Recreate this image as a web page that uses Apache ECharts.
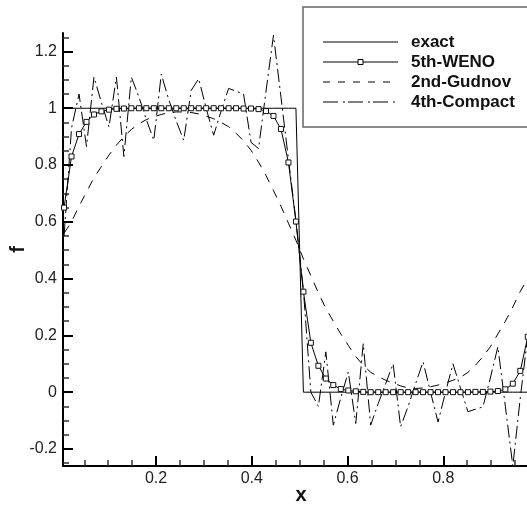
<!DOCTYPE html>
<html>
<head>
<meta charset="utf-8">
<script src="https://cdn.jsdelivr.net/npm/echarts@6/dist/echarts.min.js"></script>
<style>html,body{margin:0;padding:0;background:#fff}#c{width:527px;height:506px}</style>
</head>
<body>
<div id="c"></div>
<script>
// grid points
var xs = [0.0078,0.0234,0.0391,0.0547,0.0703,0.0859,0.1016,0.1172,0.1328,0.1484,0.1641,0.1797,0.1953,0.2109,0.2266,0.2422,
0.2578,0.2734,0.2891,0.3047,0.3203,0.3359,0.3516,0.3672,0.3828,0.3984,0.4141,0.4297,0.4453,0.4609,0.4766,0.4922,
0.5078,0.5234,0.5391,0.5547,0.5703,0.5859,0.6016,0.6172,0.6328,0.6484,0.6641,0.6797,0.6953,0.7109,0.7266,0.7422,
0.7578,0.7734,0.7891,0.8047,0.8203,0.8359,0.8516,0.8672,0.8828,0.8984,0.9141,0.9297,0.9453,0.9609,0.9766,0.9922];
var exact = [1,1,1,1,1,1,1,1,1,1,1,1,1,1,1,1,1,1,1,1,1,1,1,1,1,1,1,1,1,1,1,1,
0,0,0,0,0,0,0,0,0,0,0,0,0,0,0,0,0,0,0,0,0,0,0,0,0,0,0,0,0,0,0,0];
var weno5 = [0.65,0.83,0.909,0.952,0.978,0.989,0.995,0.998,0.999,1,1,1,1,1,1,1,
1,1,1,1,1,1,1,1,0.999,0.999,0.997,0.99,0.973,0.927,0.809,0.601,
0.354,0.174,0.093,0.048,0.025,0.011,0.006,0.003,0.001,0,0,0,0,0,0,0,
0,0,0,0,0,0,0,0.001,0.001,0.002,0.004,0.01,0.03,0.075,0.195,0.36];
var godunov2 = [0.56,0.60,0.655,0.705,0.755,0.795,0.835,0.87,0.90,0.925,0.945,0.96,0.97,0.978,0.984,0.987,
0.987,0.985,0.98,0.972,0.963,0.95,0.935,0.912,0.885,0.852,0.81,0.763,0.71,0.655,0.595,0.535,
0.47,0.41,0.35,0.295,0.25,0.205,0.165,0.125,0.095,0.07,0.055,0.042,0.032,0.022,0.015,0.013,
0.015,0.019,0.025,0.033,0.042,0.052,0.07,0.095,0.125,0.16,0.205,0.25,0.3,0.355,0.40,0.45];
var compact4 = [0.55,0.93,1.05,0.865,1.11,1.02,0.934,1.11,0.83,1.11,1.04,0.96,0.887,1.12,1.03,0.955,
0.887,1.063,1.104,1.0,0.905,0.99,1.07,1.06,1.05,0.88,0.858,1.06,1.257,1.04,0.82,0.605,
0.36,0.0,-0.05,0.142,-0.116,-0.02,0.071,-0.11,0.171,-0.116,-0.04,0.03,0.10,-0.122,-0.05,0.03,
0.107,0.0,-0.105,0.0,0.10,0.015,-0.069,-0.06,-0.052,0.05,0.16,-0.05,-0.26,-0.02,0.2,0.45];
var seriesNames = ['exact','5th-WENO','2nd-Gudnov','4th-Compact'];
var xMajor = [0.2,0.4,0.6,0.8];
var xMinor = [0.05,0.1,0.15,0.25,0.3,0.35,0.45,0.5,0.55,0.65,0.7,0.75,0.85,0.9,0.95];
var yMajor = [-0.2,0,0.2,0.4,0.6,0.8,1,1.2];
var yMinor = [-0.25,-0.15,-0.1,-0.05,0.05,0.1,0.15,0.25,0.3,0.35,0.45,0.5,0.55,0.65,0.7,0.75,0.85,0.9,0.95,1.05,1.1,1.15,1.25];

function pairs(ys){ return xs.map(function(x,i){ return [x, ys[i]]; }); }
var FONT = "'Liberation Sans', Arial, sans-serif";
var fmt = function(v){ return String(Math.round(v*10)/10); };

var XMIN = 0.0056, XMAX = 1.0, YMIN = -0.26, YMAX = 1.265;

function axisCommon(min,max){
  return {type:'value', min:min, max:max, splitLine:{show:false}, axisPointer:{show:false}};
}
var xMain = Object.assign(axisCommon(XMIN,XMAX), {
  position:'bottom',
  axisLine:{show:true, onZero:false, lineStyle:{color:'#000', width:2}},
  axisTick:{show:true, inside:true, length:10, customValues:xMajor, lineStyle:{color:'#000', width:2}},
  axisLabel:{show:true, customValues:xMajor, formatter:fmt, margin:5, fontSize:16, color:'#222', fontFamily:FONT},
  name:'x', nameLocation:'middle', nameGap:19, nameMoveOverlap:false,
  nameTextStyle:{fontSize:20, fontWeight:'bold', color:'#111', fontFamily:FONT}
});
var xMinorAx = Object.assign(axisCommon(XMIN,XMAX), {
  position:'bottom', offset:0,
  axisLine:{show:false, onZero:false},
  axisTick:{show:true, inside:true, length:6, customValues:xMinor, lineStyle:{color:'#333', width:1.5}},
  axisLabel:{show:false}
});
var yMain = Object.assign(axisCommon(YMIN,YMAX), {
  position:'left',
  axisLine:{show:true, onZero:false, lineStyle:{color:'#000', width:2}},
  axisTick:{show:true, inside:true, length:10, customValues:yMajor, lineStyle:{color:'#000', width:2}},
  axisLabel:{show:true, customValues:yMajor, formatter:fmt, margin:6, fontSize:16, color:'#222', fontFamily:FONT},
  name:'f', nameLocation:'middle', nameGap:35, nameRotate:90, nameMoveOverlap:false,
  nameTextStyle:{fontSize:20, fontWeight:'bold', color:'#111', fontFamily:FONT}
});
var yMinorAx = Object.assign(axisCommon(YMIN,YMAX), {
  position:'left', offset:0,
  axisLine:{show:false, onZero:false},
  axisTick:{show:true, inside:true, length:6, customValues:yMinor, lineStyle:{color:'#333', width:1.5}},
  axisLabel:{show:false}
});

var DASH = [9,8];
var DASHDOT = [13,4,2,4];

var legendRows = [42,62,82,102];
var legendStyles = [
  {dash:null, sym:false},
  {dash:null, sym:true},
  {dash:[7,8], sym:false},
  {dash:[15,5,2,3], sym:false}
];
var graphics = [{
  type:'rect', z:50, shape:{x:303, y:7, width:260, height:120},
  style:{fill:'#fff', stroke:'#666', lineWidth:1.5}
}];
seriesNames.forEach(function(n,k){
  var y = legendRows[k];
  graphics.push({type:'line', z:51, shape:{x1:323,y1:y,x2:398,y2:y},
    style:{stroke:'#000', lineWidth:1, lineDash:legendStyles[k].dash}});
  if (legendStyles[k].sym) {
    graphics.push({type:'rect', z:52, shape:{x:358, y:y-2.5, width:5, height:5},
      style:{fill:'#fff', stroke:'#000', lineWidth:1}});
  }
  graphics.push({type:'text', z:52, x:411, y:y,
    style:{text:n, font:"bold 17px 'Liberation Sans', Arial, sans-serif", fill:'#111', textVerticalAlign:'middle', verticalAlign:'middle'}});
});

var chart = echarts.init(document.getElementById('c'), null, {renderer:'canvas'});
chart.setOption({
  animation:false,
  backgroundColor:'#fff',
  grid:{left:63, top:33, width:476, height:433, containLabel:false, outerBoundsMode:'none'},
  xAxis:[xMain, xMinorAx],
  yAxis:[yMain, yMinorAx],
  series:[
    {name:seriesNames[0], type:'line', data:pairs(exact), showSymbol:false, symbol:'none',
     lineStyle:{color:'#000', width:1}, z:3},
    {name:seriesNames[1], type:'line', data:pairs(weno5), symbol:'rect', symbolSize:5, showSymbol:true,
     itemStyle:{color:'#fff', borderColor:'#111', borderWidth:1},
     lineStyle:{color:'#000', width:1}, z:5},
    {name:seriesNames[2], type:'line', data:pairs(godunov2), showSymbol:false, symbol:'none',
     lineStyle:{color:'#000', width:1, type:DASH}, z:2},
    {name:seriesNames[3], type:'line', data:pairs(compact4), showSymbol:false, symbol:'none',
     lineStyle:{color:'#000', width:1, type:DASHDOT}, z:2}
  ],
  graphic:graphics
});
</script>
</body>
</html>
